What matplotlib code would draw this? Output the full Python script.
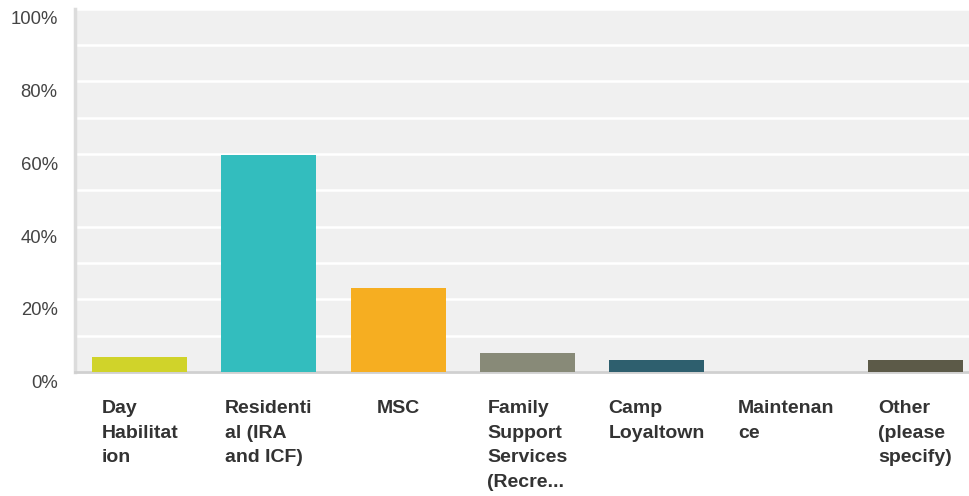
import matplotlib
matplotlib.use("Agg")
import matplotlib.pyplot as plt
import matplotlib.transforms as mtransforms

categories = ["Day\nHabilitat\nion", "Residenti\nal (IRA\nand ICF)", "MSC",
              "Family\nSupport\nServices\n(Recre...", "Camp\nLoyaltown",
              "Maintenan\nce", "Other\n(please\nspecify)"]
values = [4.1, 59.8, 23.1, 5.2, 3.3, 0.0, 3.3]
colors = ["#d0d32a", "#33bdbe", "#f6ae21", "#888a78", "#2e5f6e", "#a8a8a8", "#5c5a48"]
yticks = [0, 20, 40, 60, 80, 100]
ytick_labels = ["0%", "20%", "40%", "60%", "80%", "100%"]

plt.rcParams['font.family'] = ['Liberation Sans', 'DejaVu Sans']

W, H = 969, 496
fig = plt.figure(figsize=(W / 100, H / 100), dpi=100)
left_px, right_px, top_px, bot_px = 75, 980, 8.5, 372
ax = fig.add_axes([left_px / W, (H - bot_px) / H, (right_px - left_px) / W, (bot_px - top_px) / H])
ax.set_facecolor("#f0f0f0")

x = list(range(len(categories)))
ax.bar(x, values, width=0.735, color=colors, zorder=3)

ax.set_xlim(-0.5, len(categories) - 0.5)
ax.set_ylim(0, 100)
ax.yaxis.grid(True, color="white", linewidth=1.8, zorder=1)
ax.set_axisbelow(True)

all_ticks = list(range(0, 101, 10))
ax.set_yticks(all_ticks)
ax.set_yticklabels([ytick_labels[yticks.index(v)] if v in yticks else "" for v in all_ticks])
ax.tick_params(axis='y', length=0, pad=12.5, labelsize=13.3, labelcolor="#444444")
offset = mtransforms.ScaledTranslation(0, -9.5 / 100, fig.dpi_scale_trans)
for lab in ax.get_yticklabels():
    lab.set_transform(lab.get_transform() + offset)

ax.set_xticks(x)
ax.set_xticklabels(categories, fontsize=14, fontweight="bold", color="#333333",
                   linespacing=1.6, multialignment="left", va="top")
ax.tick_params(axis='x', length=0, pad=20)

for side in ["top", "right"]:
    ax.spines[side].set_visible(False)
ax.spines["left"].set_color("#dcdcdc")
ax.spines["left"].set_linewidth(2.5)
ax.spines["bottom"].set_color("#d0d0d0")
ax.spines["bottom"].set_linewidth(2)

fig.savefig("out.png", dpi=100)
